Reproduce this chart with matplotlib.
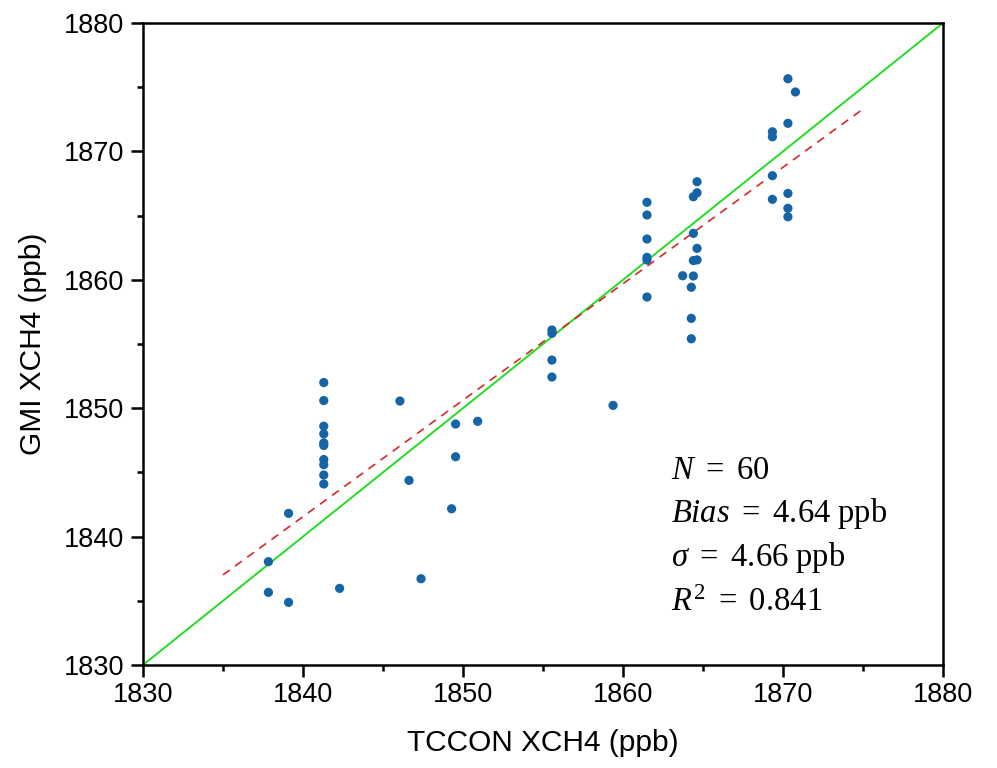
import numpy as np
import matplotlib
matplotlib.use("Agg")
import matplotlib.pyplot as plt
from matplotlib.ticker import MultipleLocator

plt.rcParams["mathtext.fontset"] = "custom"
plt.rcParams["mathtext.rm"] = "Liberation Serif"
plt.rcParams["mathtext.it"] = "Liberation Serif:italic"

# TCCON vs GMI XCH4 (ppb) collocations
tccon = [
    1841.3, 1841.3, 1841.3, 1841.3, 1841.3, 1841.3, 1841.3, 1841.3, 1841.3, 1841.3,
    1846.06, 1846.63, 1839.1, 1837.84, 1837.84, 1839.1, 1842.29, 1847.38, 1849.29,
    1849.54, 1849.54, 1850.92, 1855.56, 1855.56, 1855.56, 1855.56, 1859.38,
    1861.5, 1861.5, 1861.5, 1861.5, 1861.5, 1861.5, 1863.73, 1864.4, 1864.27,
    1864.27, 1864.27, 1864.4, 1864.63, 1864.4, 1864.63, 1864.4, 1864.63, 1864.63,
    1870.31, 1870.78, 1870.31, 1869.34, 1869.34, 1869.34, 1870.31, 1869.34,
    1870.31, 1870.31,
]
gmi = [
    1852.0, 1850.6, 1848.6, 1848.0, 1847.3, 1847.1, 1846.0, 1845.6, 1844.8, 1844.1,
    1850.56, 1844.38, 1841.81, 1838.05, 1835.66, 1834.88, 1835.97, 1836.72, 1842.17,
    1848.77, 1846.22, 1848.98, 1856.09, 1855.83, 1853.75, 1852.43, 1850.22,
    1866.04, 1865.05, 1863.18, 1861.75, 1861.54, 1858.66, 1860.32, 1860.3, 1859.42,
    1857.0, 1855.41, 1863.62, 1862.45, 1861.5, 1861.55, 1866.47, 1866.78, 1867.64,
    1875.66, 1874.63, 1872.19, 1871.53, 1871.14, 1868.11, 1866.73, 1866.27,
    1865.57, 1864.91,
]

# least-squares fit line shown over this range
fit_x = [1835, 1875]
fit_slope = 0.907
fit_intercept = 1836.93 - 0.907 * 1834.9

stats_lines = [
    r"$\mathit{N}\ =\ \mathrm{60}$",
    r"$\mathit{Bias}\ =\ \mathrm{4.64\ ppb}$",
    r"$\mathit{\sigma}\ =\ \mathrm{4.66\ ppb}$",
    r"$\mathit{R}^{2}\ =\ \mathrm{0.841}$",
]

lims = [1830, 1880]

fig = plt.figure(figsize=(9.97, 7.68), dpi=100)
ax = fig.add_axes([0.1434, 0.1341, 0.8024, 0.8359])

ax.plot(lims, lims, color="#22dd22", lw=1.4, zorder=2)
fx = np.array(fit_x)
ax.plot(fx, fit_slope * fx + fit_intercept, color="#d62728", lw=1.2,
        ls=(0, (5, 4)), zorder=2)
ax.scatter(tccon, gmi, s=44, color="#1565a6", edgecolors="none", zorder=3)

ax.set_xlim(lims)
ax.set_ylim(lims)
ax.xaxis.set_major_locator(MultipleLocator(10))
ax.yaxis.set_major_locator(MultipleLocator(10))
ax.xaxis.set_minor_locator(MultipleLocator(5))
ax.yaxis.set_minor_locator(MultipleLocator(5))

for s in ax.spines.values():
    s.set_linewidth(1.8)

ax.tick_params(which="major", direction="out", length=8.5, width=1.8,
               labelsize=19.5, pad=4)
ax.tick_params(which="minor", direction="out", length=4.5, width=1.8)
ax.tick_params(axis="y", pad=5)
for lab in ax.get_xticklabels() + ax.get_yticklabels():
    lab.set_fontfamily("Liberation Sans")

ax.set_xlabel("TCCON XCH4 (ppb)", fontsize=21.5, family="Liberation Sans",
              labelpad=15)
ax.set_ylabel("GMI XCH4 (ppb)", fontsize=21.5, family="Liberation Sans",
              labelpad=12)

y0 = 0.305
for i, line in enumerate(stats_lines):
    ax.text(0.660, y0 - i * 0.0685, line, transform=ax.transAxes,
            fontsize=23.5, va="center", ha="left")

fig.savefig("out.png", dpi=100)
